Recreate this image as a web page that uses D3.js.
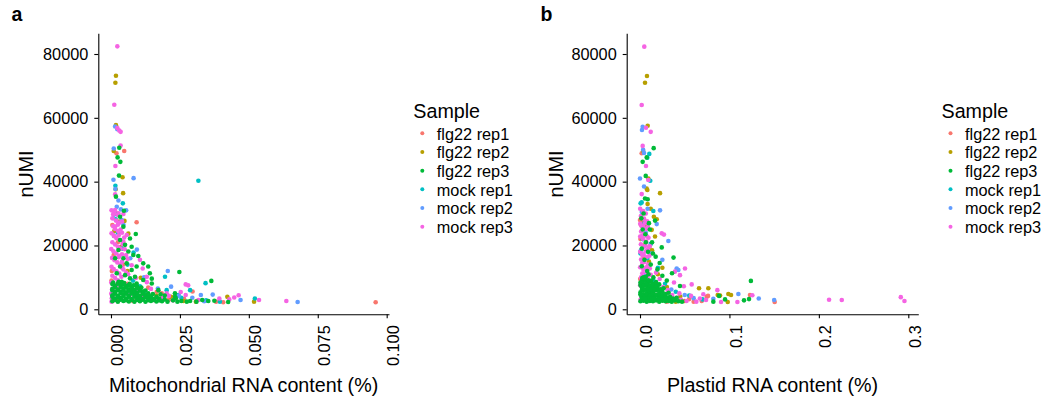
<!DOCTYPE html>
<html>
<head>
<meta charset="utf-8">
<script src="https://cdn.jsdelivr.net/npm/d3@7"></script>
<style>
  body { margin: 0; background: #fff; }
  svg { display: block; font-family: "Liberation Sans", Arial, sans-serif; }
</style>
</head>
<body>
<svg id="chart" width="1048" height="399"></svg>
<script>
// Sample names and the ggplot hue palette used for them
const samples = ["flg22 rep1", "flg22 rep2", "flg22 rep3", "mock rep1", "mock rep2", "mock rep3"];
const sampleColors = ["#F8766D", "#B79F00", "#00BA38", "#00BFC4", "#619CFF", "#F564E3"];

// Axis ticks
const umiTicks = [0, 20000, 40000, 60000, 80000];
const mitoTicks = [0, 0.025, 0.05, 0.075, 0.1];
const plastidTicks = [0, 0.1, 0.2, 0.3];

// Cells: [organelle RNA content, nUMI]
// --- mitochondrial ---
const mitoFlg22Rep1 = [[0.0048,49600],[0.002,48900],[0.0093,27300],[0.0005,26400],[0.0296,5600],[0.0166,5500],[0.0184,5000],[0.0381,2400],[0.0407,2200],[0.096,2200],[0.001,17000],[0.0003,12000],[0.006,8000],[0.012,4500],[0.021,3000],[0.008,2600],[0.0025,21000],[0.0045,14000],[0.0002,9000],[0.0135,6800],[0.0265,3300]];
const mitoFlg22Rep2 = [[0.0018,73200],[0.0016,71000],[0.0018,57700],[0.001,49600],[0.0042,41400],[0.0017,37600],[0.0044,36400],[0.0049,27700],[0.0063,23700],[0.0108,9900],[0.0218,3900],[0.0422,3900],[0.0519,2400],[0.0308,2400],[0.0262,2600],[0.002,30000],[0.003,27500],[0.0035,19500],[0.006,12000],[0.009,6000],[0.014,3000],[0.0024,3500],[0.0012,24500],[0.0165,4200]];
const mitoFlg22Rep3 = [
  [0.003,50600],[0.0024,47600],[0.0034,46200],[0.0029,41900],[0.0018,35300],[0.0033,29000],[0.0047,30900],[0.0045,25900],[0.009,23600],[0.0033,21700],[0.0069,22200],[0.0075,19600],[0.0051,20200],[0.0063,18100],[0.0027,18600],[0.0081,17000],[0.0099,16700],[0.0015,16000],[0.0045,16000],[0.0117,14400],[0.0057,14400],[0.0093,13400],[0.0135,13400],[0.0033,13400],[0.0075,12300],[0.0141,11300],[0.0021,11300],[0.0051,10700],[0.0087,10200],[0.0069,9700],[0.0117,9200],[0.0148,9600],[0.0039,8600],[0.0093,8100],[0.0148,8100],[0.0172,6000],[0.0248,11700],[0.0364,8900],
  [0.0005,2500],[0.0025,2400],[0.0045,2600],[0.0065,2450],[0.0085,2400],[0.0105,2550],[0.0125,2400],[0.0145,2600],[0.0165,2450],[0.0185,2500],[0.0205,2400],
  [0.0015,2900],[0.0035,3000],[0.0055,2850],[0.0075,2950],[0.0095,2900],[0.0115,3000],[0.0135,2850],[0.0155,2900],[0.0175,2800],
  [0.0015,3300],[0.0035,3500],[0.0055,3400],[0.0075,3200],[0.0095,3600],[0.0115,3300],[0.0135,3500],[0.0155,3200],[0.0175,3400],[0.0195,3100],
  [0.0005,3900],[0.0025,3850],[0.0045,4000],[0.0065,3900],[0.0085,3950],[0.0105,3800],[0.0125,3900],[0.0145,3700],
  [0.0005,4400],[0.0025,4200],[0.0045,4600],[0.0065,4300],[0.0085,4500],[0.0105,4200],[0.0125,4400],[0.0145,4100],[0.0165,3900],
  [0.0015,4900],[0.0035,5000],[0.0055,4850],[0.0075,4950],[0.0095,4800],[0.0115,4900],[0.0135,4600],
  [0.0015,5400],[0.0035,5600],[0.0055,5300],[0.0075,5500],[0.0095,5200],[0.0115,5400],[0.0135,5000],[0.0152,4800],
  [0.0005,5900],[0.0025,5950],[0.0045,5850],[0.0065,5800],[0.0085,5700],[0.0105,5800],[0.0118,5600],
  [0.0005,6400],[0.0025,6200],[0.0045,6500],[0.0065,6300],[0.0085,6100],[0.0105,6300],[0.0125,5900],
  [0.0015,6900],[0.0035,7000],[0.0055,6800],[0.0075,6700],[0.0095,6600],
  [0.0015,7400],[0.0035,7600],[0.0055,7300],[0.0075,7100],[0.0095,7200],[0.011,6800],
  [0.0005,7900],[0.0025,8000],[0.0045,7800],[0.0065,7600],[0.0082,7500],
  [0.0008,8400],[0.0028,8600],[0.0048,8200],[0.0068,8000],
  [0.0225,2800],[0.0235,3500],[0.0255,2600],[0.0275,2400],[0.0287,2600],[0.0241,2400],[0.0331,2900],[0.0353,2600],[0.0425,2300],[0.0232,5000],[0.0232,3900],[0.031,2400],[0.0375,2700],[0.018,4700],[0.0195,4300]
];
const mitoMockRep1 = [[0.0317,40300],[0.0043,33200],[0.0017,28200],[0.0343,8200],[0.0196,10200],[0.0287,6000],[0.0202,6000],[0.0522,3400],[0.0395,2400],[0.0082,17800],[0.0015,30000],[0.0025,24000],[0.004,19000],[0.006,14000],[0.008,9000],[0.012,5500],[0.016,3000],[0.0245,4500],[0.0255,3600],[0.0016,38700],[0.0105,7200],[0.0345,2800]];
const mitoMockRep2 = [[0.001,50400],[0.0015,57300],[0.0023,56400],[0.0082,41100],[0.0009,40600],[0.0016,37700],[0.0027,34100],[0.0021,32100],[0.0036,31300],[0.0039,28000],[0.001,29600],[0.0094,18700],[0.0206,12000],[0.0218,7100],[0.0326,4500],[0.0369,4600],[0.047,2900],[0.0677,2300],[0.0295,3600],[0.0055,31000],[0.0045,26500],[0.0011,23000],[0.007,16000],[0.012,10000],[0.017,6500],[0.0245,4200],[0.014,3000],[0.0065,5000],[0.0338,2500]];
const mitoMockRep3 = [
  [0.0023,82400],[0.0012,64100],[0.0023,56800],[0.003,56000],[0.0035,55600],[0.0035,51300],[0.0016,44900],[0.0015,36000],[0.0271,7800],[0.028,7500],[0.0253,5400],[0.0271,4500],[0.0447,3700],[0.0463,4400],[0.0429,3100],[0.0537,2900],[0.0636,2600],[0.0393,3400],[0.0317,2900],[0.0115,12800],
  [0.0015,31100],[0.0027,30100],[0.0045,29900],[0.0027,27000],[0.0015,25900],[0.0057,23300],[0.0045,21200],[0.0105,15500],[0.013,10200],[0.0202,5000],
  [0.0002,31000],[0.0012,30200],[0.0024,29600],[0.0005,28500],[0.0018,27800],[0.003,27200],[0.0008,26000],[0.0015,25200],[0.0026,24500],[0.0002,23800],[0.0011,23000],[0.002,22300],[0.0032,21700],[0.0005,21000],[0.0015,20300],[0.0025,19600],[0.0001,18900],[0.0009,18200],[0.0019,17500],[0.003,16800],[0.0004,16100],[0.0013,15400],[0.0023,14700],[0.0035,14000],[0.0002,13300],[0.001,12600],[0.002,11900],[0.003,11200],[0.0005,10500],[0.0015,9800],[0.0025,9100],[0.0001,8400],[0.0011,7700],[0.002,7000],[0.0004,6300],[0.0013,5600],[0.0001,4900],[0.0008,4200],[0.0003,3500],[0.001,2800],[0.0002,2400],
  [0.004,24000],[0.0048,22500],[0.0042,20500],[0.005,18800],[0.0055,17000],[0.004,15000],[0.006,15800],[0.0045,12500],[0.0062,11000],[0.0038,10200],[0.0025,26500],[0.0008,29800],[0.0035,25000],[0.004,27500],[0.0028,23200],[0.0035,19000],[0.0028,16300],[0.004,13000],
  [0.0068,4500],[0.0095,6000],[0.012,3800],[0.0145,6400],[0.016,2800],[0.0185,3600],[0.021,4200],[0.0225,2800],[0.006,7600],[0.009,9800],[0.013,8500],[0.0055,11500],[0.0075,13800],[0.004,17200]
];

// --- plastid ---
const plastidFlg22Rep1 = [[0.0019,48900],[0.003,27400],[0.0,28000],[0.123,4500],[0.1506,2300],[0.0746,3900],[0.0761,4200],[0.069,2600],[0.001,26500],[0.0005,22000],[0.004,16000],[0.008,12000],[0.015,7500],[0.025,5000],[0.035,3500],[0.045,2800],[0.055,3200],[0.06,2400],[0.0002,9500],[0.03,2400],[0.0105,19500]];
const plastidFlg22Rep2 = [[0.0078,73100],[0.0056,71000],[0.0086,57500],[0.0035,49600],[0.0093,41000],[0.0082,37400],[0.0224,36400],[0.0075,37800],[0.0187,28200],[0.0131,24900],[0.0168,22800],[0.066,6600],[0.0764,6600],[0.0869,4500],[0.0895,4300],[0.0988,4800],[0.1018,4500],[0.0981,2300],[0.012,31500],[0.007,26000],[0.004,20000],[0.01,15000],[0.02,11000],[0.03,7000],[0.045,4000],[0.05,2600],[0.0085,33000],[0.0155,29000],[0.025,13000],[0.0135,18500],[0.04,2400]];
const plastidFlg22Rep3 = [
  [0.0153,50500],[0.003,46200],[0.0075,47600],[0.0064,41800],[0.0056,34700],[0.0086,34500],[0.0168,27800],[0.0243,19400],[0.0375,16200],[0.0358,11300],[0.124,8900],[0.1219,3200],[0.1163,2800],[0.0951,3100],[0.0884,4200],[0.082,2400],[0.0447,7300],
  [0.004,30000],[0.0015,28500],[0.011,25000],[0.006,23500],[0.0135,21000],[0.002,19000],[0.009,18000],[0.0175,16500],[0.005,15500],[0.012,14000],[0.002,13500],[0.0195,12500],[0.008,12000],[0.025,10500],[0.015,10000],[0.004,10000],[0.03,9000],[0.0065,21000],[0.01,27000],[0.003,25000],[0.0145,17500],[0.022,14500],[0.0095,11000],
  [0.0005,2500],[0.004,2700],[0.0075,2400],[0.011,2600],[0.0145,2500],[0.018,2800],[0.0215,2400],[0.025,2700],[0.0285,2500],[0.032,2600],[0.0355,2400],[0.039,2800],[0.043,2500],[0.047,2400],
  [0.0022,3100],[0.0057,3150],[0.0092,3050],[0.0127,3100],[0.0162,3200],[0.0197,3050],[0.0232,3100],[0.0267,3150],[0.0302,3000],[0.0337,3100],[0.0372,3000],
  [0.002,3800],[0.0055,4200],[0.009,3600],[0.0125,4000],[0.016,3700],[0.0195,4300],[0.023,3600],[0.0265,4100],[0.03,3500],[0.0335,3900],[0.037,3400],[0.041,3600],
  [0.0005,4600],[0.004,4650],[0.0075,4550],[0.011,4600],[0.0145,4700],[0.018,4500],[0.0215,4600],[0.025,4400],[0.0285,4300],
  [0.0005,5300],[0.004,5800],[0.0075,5100],[0.011,5600],[0.0145,5400],[0.018,5900],[0.0215,5000],[0.025,5500],[0.0285,4800],[0.032,5200],
  [0.0022,6100],[0.0057,6200],[0.0092,6050],[0.0127,6150],[0.0162,6000],[0.0197,6100],[0.0232,5900],
  [0.002,6900],[0.0055,7400],[0.009,6700],[0.0125,7200],[0.016,6500],[0.0195,7000],[0.023,6300],[0.0265,6600],
  [0.0005,7600],[0.004,7700],[0.0075,7600],[0.011,7500],[0.0145,7400],[0.018,7300],
  [0.0005,8400],[0.004,8900],[0.0075,8200],[0.011,8700],[0.0145,8000],[0.018,8500],[0.0215,7800],
  [0.0022,9200],[0.0057,9300],[0.0092,9100],[0.0127,9000],
  [0.001,4600],[0.013,3000],[0.027,3000],[0.006,3200],[0.0205,3200],[0.034,3000],[0.0025,9800],[0.0065,10200]
];
const plastidMockRep1 = [[0.0104,48700],[0.0082,47500],[0.0115,40300],[0.0007,33200],[0.0149,30800],[0.0019,33500],[0.005,27000],[0.003,22000],[0.012,20500],[0.008,16000],[0.02,13000],[0.028,8000],[0.04,5500],[0.055,4300],[0.07,3100],[0.0005,17500],[0.015,9000],[0.033,3000]];
const plastidMockRep2 = [[0.0022,56200],[0.003,57200],[0.0,41000],[0.0224,31000],[0.0187,26700],[0.0317,21400],[0.041,12800],[0.0429,12300],[0.11,4800],[0.1328,3400],[0.15,2900],[0.082,3300],[0.0045,38500],[0.002,30500],[0.0085,31500],[0.0065,24000],[0.001,18500],[0.013,17500],[0.025,15500],[0.006,11000],[0.018,8000],[0.035,6200],[0.05,4500],[0.06,3500],[0.015,3200],[0.0035,50000],[0.0045,49000]];
const plastidMockRep3 = [
  [0.0048,82300],[0.0019,64000],[0.0067,56900],[0.012,55600],[0.003,51200],[0.0067,44900],[0.0093,40500],[0.0019,36100],[0.0243,23800],[0.0268,23400],[0.0503,12800],[0.039,11800],[0.0447,10700],[0.0578,7800],[0.0865,6000],[0.0708,4700],[0.0738,2900],[0.1089,2300],[0.1256,4400],[0.0906,2300],[0.2114,3000],[0.2256,2900],[0.2916,3800],[0.2957,2600],
  [0.0002,31500],[0.0035,30800],[0.0065,30000],[0.001,29200],[0.0045,28400],[0.008,27600],[0.0002,26800],[0.0035,26000],[0.0068,25200],[0.0012,24400],[0.0048,23600],[0.0002,22800],[0.0035,22000],[0.007,21200],[0.001,20400],[0.0045,19600],[0.0085,18800],[0.0002,18000],[0.004,17200],[0.0075,16400],[0.0012,15600],[0.005,14800],[0.009,14000],[0.0002,13200],[0.0038,12400],[0.0075,11600],[0.012,10800],[0.0012,10000],[0.0055,9200],[0.0002,7500],[0.003,6200],[0.0015,4000],[0.0005,3000],
  [0.0055,27000],[0.009,25800],[0.0025,23000],[0.0095,22400],[0.006,20000],[0.011,19800],[0.0025,17000],[0.0105,16800],[0.007,13200],[0.011,12800],[0.0025,11200],[0.0085,9800],[0.0045,8200],[0.0105,8600],[0.0025,14500],[0.0065,18200],[0.008,22800],[0.0018,26000],
  [0.018,11500],[0.022,9500],[0.026,7000],[0.031,6000],[0.036,4500],[0.041,3600],[0.046,3000],[0.052,2600],[0.057,4200],[0.063,2400],[0.067,3400],[0.028,2800],[0.015,6000],[0.012,2800],[0.024,4000],[0.033,2600],[0.044,5000],[0.049,7200],[0.038,8400]
];

const mitoSeries = [mitoFlg22Rep1, mitoFlg22Rep2, mitoFlg22Rep3, mitoMockRep1, mitoMockRep2, mitoMockRep3];
const plastidSeries = [plastidFlg22Rep1, plastidFlg22Rep2, plastidFlg22Rep3, plastidMockRep1, plastidMockRep2, plastidMockRep3];

// Layering of the sample groups (flg22 rep3 on top)
const drawOrder = [0, 1, 3, 4, 5, 2];

const svg = d3.select("#chart");
const color = d3.scaleOrdinal().domain(samples).range(sampleColors);

const tickFont = 16.3;
const titleFont = 19.7;

function panel(cfg) {
  const x = d3.scaleLinear().domain(cfg.xDomain).range(cfg.xRange);
  const y = d3.scaleLinear().domain([-1567, 86487]).range([314.3, 33.3]);
  const g = svg.append("g");

  // points
  const pts = g.append("g");
  drawOrder.forEach(i => {
    pts.selectAll(null)
      .data(cfg.series[i])
      .join("circle")
      .attr("cx", d => x(d[0]))
      .attr("cy", d => y(d[1]))
      .attr("r", 2.3)
      .attr("fill", color(samples[i]));
  });

  // y axis
  const yAxis = g.append("g")
    .attr("transform", `translate(${cfg.xRange[0]},0)`)
    .call(d3.axisLeft(y).tickValues(umiTicks).tickFormat(d3.format("d")).tickSize(4).tickSizeOuter(0).tickPadding(6));
  yAxis.selectAll("text").attr("font-size", tickFont).attr("fill", "#000").attr("font-family", null);

  // x axis
  const xAxis = g.append("g")
    .attr("transform", "translate(0,314.3)")
    .call(d3.axisBottom(x).tickValues(cfg.xTicks).tickFormat(d3.format(cfg.xFormat)).tickSize(4).tickSizeOuter(0));
  xAxis.selectAll("text")
    .attr("font-size", tickFont).attr("fill", "#000").attr("font-family", null)
    .attr("x", 0).attr("y", 0).attr("dy", null)
    .attr("text-anchor", "end")
    .attr("transform", "translate(12,11) rotate(-90)");

  [yAxis, xAxis].forEach(a => {
    a.select(".domain").attr("stroke", "#000").attr("stroke-width", 1.1);
    a.selectAll(".tick line").attr("stroke", "#000").attr("stroke-width", 1.1);
  });

  // axis titles
  g.append("text")
    .attr("transform", `translate(${cfg.yTitleX},174) rotate(-90)`)
    .attr("text-anchor", "middle")
    .attr("font-size", titleFont)
    .text("nUMI");
  g.append("text")
    .attr("x", (cfg.xRange[0] + cfg.xRange[1]) / 2)
    .attr("y", 391.5)
    .attr("text-anchor", "middle")
    .attr("font-size", titleFont)
    .text(cfg.xTitle);

  // panel tag
  g.append("text")
    .attr("x", cfg.tagX).attr("y", 20.5)
    .attr("font-size", 19.5).attr("font-weight", "bold")
    .text(cfg.tag);

  // legend
  const lg = g.append("g");
  lg.append("text")
    .attr("x", cfg.legendX).attr("y", 117.5)
    .attr("font-size", titleFont)
    .text("Sample");
  const rows = lg.selectAll("g.row")
    .data(samples)
    .join("g")
    .attr("class", "row")
    .attr("transform", (d, i) => `translate(${cfg.legendX + 9},${133.3 + i * 18.68})`);
  rows.append("circle").attr("r", 2.0).attr("fill", d => color(d));
  rows.append("text")
    .attr("x", 14.5).attr("y", 6.2)
    .attr("font-size", tickFont)
    .text(d => d);
}

panel({
  series: mitoSeries,
  xDomain: [-0.0046, 0.10084],
  xRange: [98.3, 389],
  xTicks: mitoTicks,
  xFormat: ".3f",
  xTitle: "Mitochondrial RNA content (%)",
  yTitleX: 33.3,
  tag: "a",
  tagX: 11.5,
  legendX: 413.3
});

panel({
  series: plastidSeries,
  xDomain: [-0.01487, 0.31118],
  xRange: [626.7, 918.3],
  xTicks: plastidTicks,
  xFormat: ".1f",
  xTitle: "Plastid RNA content (%)",
  yTitleX: 562.5,
  tag: "b",
  tagX: 540.5,
  legendX: 941.5
});
</script>
</body>
</html>
